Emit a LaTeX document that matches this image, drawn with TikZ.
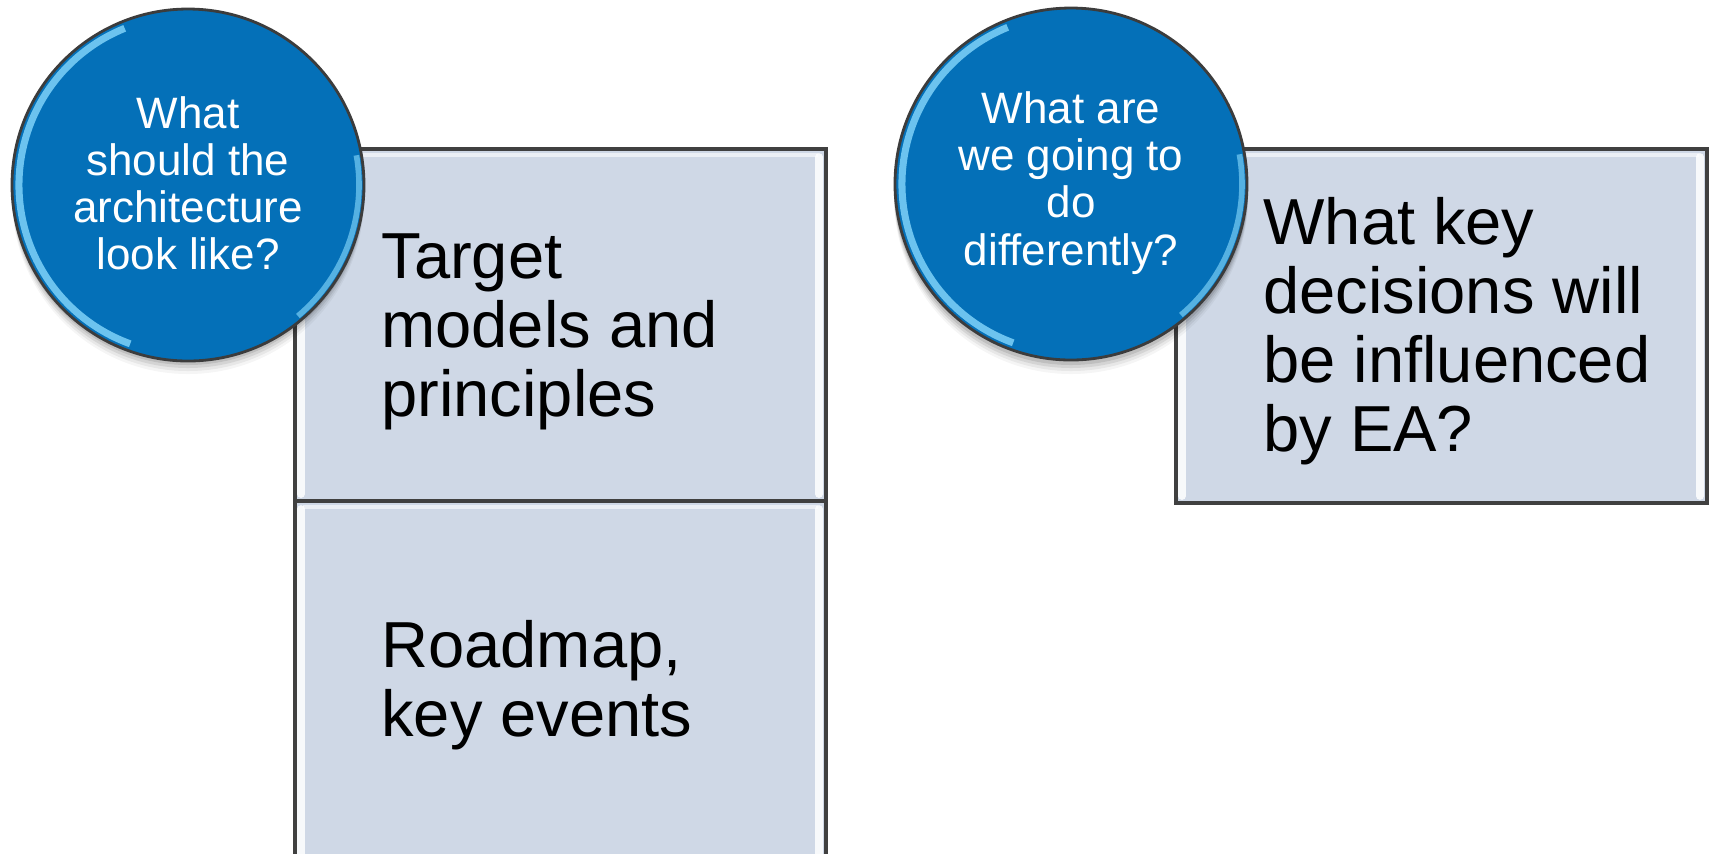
\documentclass[tikz,border=0pt]{standalone}
\usepackage{fontspec}
\setmainfont{Liberation Sans}
\begin{document}
\begin{tikzpicture}[x=0.01cm,y=-0.01cm]
\definecolor{boxfill}{RGB}{207,216,230}
\definecolor{circblue}{RGB}{4,112,184}
\definecolor{circedge}{RGB}{60,60,60}
\definecolor{glow}{RGB}{120,205,245}
\tikzset{
  panel/.style={draw=black!75, line width=0.9pt, fill=boxfill},
  bubble/.style={circle, draw=circedge, line width=0.8pt, fill=circblue, minimum size=352*0.01cm, inner sep=0pt},
  bubbletext/.style={text=white, align=center, font=\fontsize{12.5}{13.4}\selectfont},
  paneltext/.style={text=black, align=left, anchor=west, font=\fontsize{18.5}{19.6}\selectfont},
  bevel/.style={white, line width=2.2pt, opacity=0.85, line cap=round}
}
\useasboundingbox (0,0) rectangle (1714,853);
\begin{scope}
\clip (0,0) rectangle (1714,853);
% left panels
\draw[panel] (295,149) rectangle (826,501);
\draw[panel] (295,501) rectangle (826,880);
% right panel
\draw[panel] (1176,149) rectangle (1707,503);
% bevel highlights
\foreach \x/\t/\b in {301/157/494, 819/157/494, 301/509/870, 819/509/870, 1182/157/496, 1700/157/496}{
  \draw[bevel] (\x,\t) -- (\x,\b);
}
\foreach \l/\r/\y in {303/818/155, 303/818/507, 1184/1699/155}{
  \draw[white, line width=1pt, opacity=0.6] (\l,\y) -- (\r,\y);
}
% circle shadows
\foreach \o/\op in {4/0.10, 7/0.08, 10/0.06, 13/0.04}{
  \fill[black, opacity=\op] (188,185+\o) circle (176);
  \fill[black, opacity=\op] (1071,184+\o) circle (177);
}
% circles
\node[bubble] (q1) at (188,185) {};
\node[bubble] (q2) at (1071,184) {};
\foreach \c/\cy in {188/185, 1071/184}{
  \draw[glow, line width=2pt, opacity=0.9] (\c,\cy) ++(-250:169) arc[start angle=-250, end angle=-112, radius=169];
  \draw[glow, line width=1.6pt, opacity=0.7] (\c,\cy) ++(-10:171) arc[start angle=-10, end angle=50, radius=171];
}
\node[bubbletext] (t1) at (188,183) {What\\should the\\architecture\\look like?};
\node[bubbletext] (t2) at (1071,183) {What are\\we going to\\do\\differently?};
% panel texts
\node[paneltext] (p1) at (369,332) {Target\\models and\\principles};
\node[paneltext] (p2) at (369,685) {Roadmap,\\key events};
\node[paneltext] (p3) at (1251,331) {What key\\decisions will\\be influenced\\by EA?};
\end{scope}
\end{tikzpicture}
\end{document}
